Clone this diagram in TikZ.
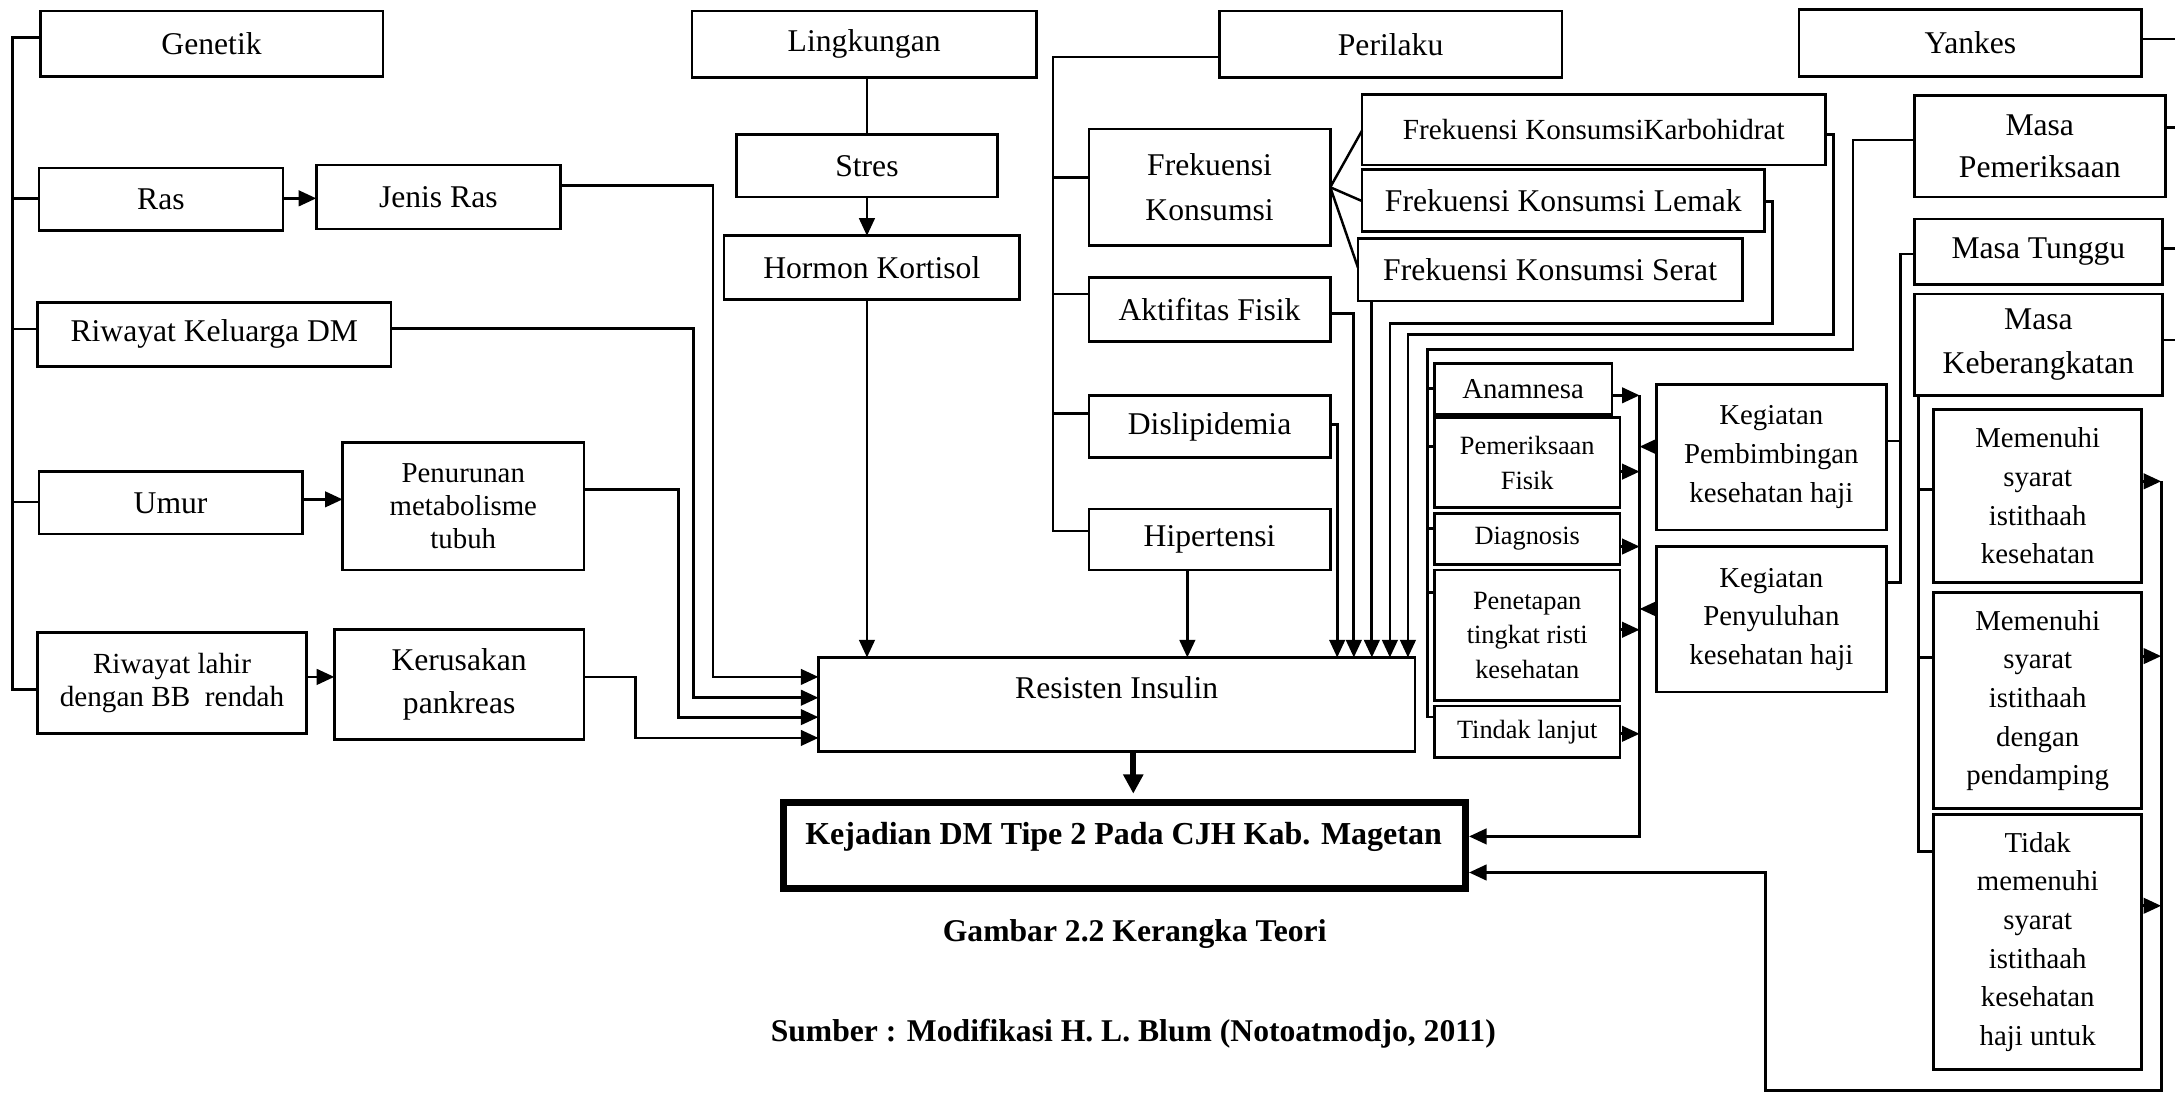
\documentclass[tikz,border=0pt]{standalone}
\usepackage{fontspec}
\setmainfont{Liberation Serif}
\usetikzlibrary{arrows.meta}
% \rect{name}{x1}{y1}{x2}{y2}{options}{text}: framed box given by its corners
\newcommand\rect[7]{\node[boxs,minimum width={(#4-#2)*0.013871cm},minimum height={(#5-#3)*0.013871cm},#6] (#1) at ({(#2+#4)/2},{(#3+#5)/2}) {#7};}
\begin{document}
\begin{tikzpicture}[x=0.013871cm,y=-0.013871cm,
  boxs/.style={draw,line width=0.75pt,inner sep=0pt,outer sep=0pt,align=center,font=\fontsize{9}{12}\selectfont},
  ln/.style={line width=0.7pt},
  arr/.style={line width=0.8pt,-{Triangle[length=5pt,width=4.4pt]}},
  fa/.style={font=\fontsize{8.2}{11}\selectfont},
  fb/.style={font=\fontsize{7.5}{9.9}\selectfont}]
\useasboundingbox (0,0) rectangle (1568,788);

% ---------- Genetik ----------
\rect{gen}{29}{8}{276}{55}{}{Genetik}
\rect{ras}{28}{121}{204}{166}{}{Ras}
\rect{jras}{228}{119}{404}{165}{}{Jenis Ras}
\rect{rkel}{27}{218}{282}{264}{}{Riwayat Keluarga DM}
\rect{umur}{28}{340}{218}{385}{}{Umur}
\rect{penur}{247}{319}{421}{411}{font=\fontsize{8.2}{9.4}\selectfont}{Penurunan\\metabolisme\\tubuh}
\rect{rlahir}{27}{456}{221}{529}{font=\fontsize{8.3}{9.2}\selectfont}{Riwayat lahir\\dengan BB~ rendah}
\rect{kerus}{241}{454}{421}{533}{font=\fontsize{9}{12.2}\selectfont}{Kerusakan\\pankreas}

% ---------- Lingkungan ----------
\rect{ling}{499}{8}{747}{56}{}{Lingkungan}
\rect{stres}{531}{97}{719}{142}{}{Stres}
\rect{horm}{522}{170}{735}{216}{}{Hormon Kortisol}

% ---------- Perilaku ----------
\rect{peri}{879}{8}{1126}{56}{}{Perilaku}
\rect{fk}{785}{93}{959}{177}{font=\fontsize{9}{12.6}\selectfont}{Frekuensi\\Konsumsi}
\rect{akt}{785}{200}{959}{246}{}{Aktifitas Fisik}
\rect{dis}{785}{285}{959}{330}{}{Dislipidemia}
\rect{hip}{785}{367}{959}{411}{}{Hipertensi}
\rect{fkk}{982}{68}{1316}{119}{font=\fontsize{8.3}{10}\selectfont}{Frekuensi KonsumsiKarbohidrat}
\rect{fkl}{982}{122}{1272}{167}{}{Frekuensi Konsumsi Lemak}
\rect{fks}{979}{172}{1256}{217}{}{Frekuensi Konsumsi Serat}

% ---------- Yankes ----------
\rect{yank}{1297}{7}{1544}{55}{}{Yankes}
\rect{mp}{1380}{69}{1561}{142}{font=\fontsize{9}{11.8}\selectfont}{Masa\\Pemeriksaan}
\rect{mt}{1380}{158}{1559}{205}{}{Masa Tunggu}
\rect{mk}{1380}{212}{1559}{285}{font=\fontsize{9}{12.6}\selectfont}{Masa\\Keberangkatan}
\rect{mA}{1394}{295}{1544}{420}{fa}{Memenuhi\\syarat\\istithaah\\kesehatan}
\rect{mB}{1394}{427}{1544}{583}{fa}{Memenuhi\\syarat\\istithaah\\dengan\\pendamping}
\rect{mC}{1394}{587}{1544}{771}{fa}{Tidak\\memenuhi\\syarat\\istithaah\\kesehatan\\haji untuk}

\rect{ana}{1034}{262}{1162}{299}{font=\fontsize{8.2}{10}\selectfont}{Anamnesa}
\rect{pf}{1034}{301}{1168}{366}{fb}{Pemeriksaan\\Fisik}
\rect{diag}{1034}{370}{1168}{407}{fb}{Diagnosis}
\rect{pen}{1034}{411}{1168}{505}{fb}{Penetapan\\tingkat risti\\kesehatan}
\rect{tl}{1034}{509}{1168}{546}{fb}{Tindak lanjut}
\rect{kp}{1194}{277}{1360}{382}{fa}{Kegiatan\\Pembimbingan\\kesehatan haji}
\rect{ky}{1194}{394}{1360}{499}{fa}{Kegiatan\\Penyuluhan\\kesehatan haji}

% ---------- outcome ----------
\rect{ri}{590}{474}{1020}{542}{}{}
\node[font=\fontsize{9}{12}\selectfont] (rit) at (805,496) {Resisten Insulin};
\rect{kej}{565}{578.5}{1056.5}{640.5}{line width=2pt}{}
\node[font=\bfseries\fontsize{9.1}{12}\selectfont] (kejt) at (810,603) {Kejadian DM Tipe 2 Pada CJH Kab. Magetan};
\node[font=\bfseries\fontsize{9}{11}\selectfont] (cap) at (818,673) {Gambar 2.2 Kerangka Teori};
\node[font=\bfseries\fontsize{9}{11}\selectfont] (src) at (817,745) {Sumber : Modifikasi H. L. Blum (Notoatmodjo, 2011)};

% free ends at the right edge
\coordinate (eY) at (1568,28);
\coordinate (eP) at (1568,92);
\coordinate (eT) at (1568,179);
\coordinate (eK) at (1568,245);

% ---------- Genetik connectors ----------
\draw[ln] (gen.west |- 0,27) -- (9,27) |- (rlahir.west |- 0,497);
\foreach \n/\yy in {ras/143, rkel/237, umur/362} \draw[ln] (9,\yy) -- (\n.west |- 0,\yy);
\draw[arr] (ras.east |- 0,143) -- (jras.west |- 0,143);
\draw[arr] (umur.east |- 0,360) -- (penur.west |- 0,360);
\draw[arr] (rlahir.east |- 0,488) -- (kerus.west |- 0,488);
\draw[arr] (jras.east |- 0,134) -| (514,488) -- (ri.west |- 0,488);
\draw[arr] (rkel.east |- 0,237) -| (500,503) -- (ri.west |- 0,503);
\draw[arr] (penur.east |- 0,353) -| (489,517) -- (ri.west |- 0,517);
\draw[arr] (kerus.east |- 0,488) -| (458,532) -- (ri.west |- 0,532);

% ---------- Lingkungan connectors ----------
\draw[ln] (ling.south -| 625,0) -- (stres.north -| 625,0);
\draw[arr] (stres.south -| 625,0) -- (horm.north -| 625,0);
\draw[arr] (horm.south -| 625,0) -- (ri.north -| 625,0);

% ---------- Perilaku connectors ----------
\draw[ln] (peri.west |- 0,41) -| (759,383) -- (hip.west |- 0,383);
\foreach \n/\yy in {fk/128, akt/212, dis/298} \draw[ln] (759,\yy) -- (\n.west |- 0,\yy);
\foreach \n/\yy in {fkk/94, fkl/145, fks/193} \draw[ln] (fk.east |- 0,135) -- (\n.west |- 0,\yy);
\draw[arr] (hip.south -| 856,0) -- (ri.north -| 856,0);
\draw[arr] (dis.east |- 0,306) -| (ri.north -| 964,0);
\draw[arr] (akt.east |- 0,226) -| (ri.north -| 976,0);
\draw[arr] (fks.south -| 989,0) -- (ri.north -| 989,0);
\draw[arr] (fkl.east |- 0,145) -- (1278,145) |- (1002,233) -- (ri.north -| 1002,0);
\draw[arr] (fkk.east |- 0,97) -- (1322,97) |- (1015,241) -- (ri.north -| 1015,0);

% ---------- Yankes connectors ----------
\draw[ln] (yank.east |- eY) -- (eY);
\draw[ln] (mp.east |- eP) -- (eP);
\draw[ln] (mt.east |- eT) -- (eT);
\draw[ln] (mk.east |- eK) -- (eK);
\draw[ln] (mp.west |- 0,101) -- (1336,101) |- (1029,252) |- (tl.west |- 0,517);
\foreach \n/\yy in {ana/280, pf/322, diag/381, pen/427} \draw[ln] (1029,\yy) -- (\n.west |- 0,\yy);
\foreach \n/\yy in {ana/285, pf/340, diag/394, pen/454, tl/529} \draw[arr] (\n.east |- 0,\yy) -- (1182,\yy);
\draw[arr,shorten >=1pt] (1182,285) -- (1182,603) -- (kej.east |- 0,603);
\draw[arr] (kp.west |- 0,322) -- (1182,322);
\draw[arr] (ky.west |- 0,439) -- (1182,439);
\draw[ln] (mt.west |- 0,183) -- (1370,183) |- (ky.east |- 0,420);
\draw[ln] (kp.east |- 0,318) -- (1370,318);
\draw[ln] (mk.south -| 1383,0) |- (mC.west |- 0,614);
\foreach \n/\yy in {mA/353, mB/474} \draw[ln] (1383,\yy) -- (\n.west |- 0,\yy);
\foreach \n/\yy in {mA/347, mB/473, mC/653} \draw[arr] (\n.east |- 0,\yy) -- (1558,\yy);
\draw[arr,shorten >=1pt] (1558,347) -- (1558,786) -- (1273,786) -- (1273,629) -- (kej.east |- 0,629);

% ---------- Resisten Insulin to outcome ----------
\draw[line width=1.6pt,-{Triangle[length=5.5pt,width=5.5pt]},shorten >=2.5pt] (ri.south -| 817,0) -- (kej.north -| 817,0);
\end{tikzpicture}
\end{document}
